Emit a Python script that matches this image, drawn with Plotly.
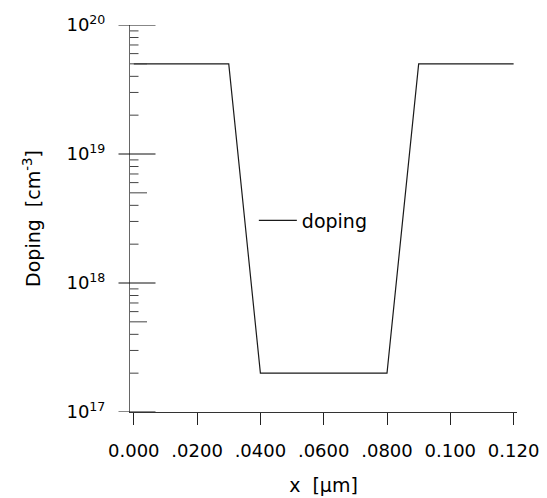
import plotly.graph_objects as go

# Doping profile along x (µm) — heavily doped contacts around a lightly doped channel
x_um = [0.0, 0.03, 0.04, 0.08, 0.09, 0.12]
doping = [5e19, 5e19, 2e17, 2e17, 5e19, 5e19]

x_tick_vals = [0.0, 0.02, 0.04, 0.06, 0.08, 0.10, 0.12]
x_tick_text = ["0.000", ".0200", ".0400", ".0600", ".0800", "0.100", "0.120"]

y_tick_vals = [1e17, 1e18, 1e19, 1e20]
y_tick_text = ["10<sup>17</sup>", "10<sup>18</sup>", "10<sup>19</sup>", "10<sup>20</sup>"]
minor_mult = [2, 3, 4, 5, 6, 7, 8, 9]

FONT = "DejaVu Sans"

fig = go.Figure()
fig.add_trace(go.Scatter(
    x=x_um, y=doping, mode="lines", name="doping",
    line=dict(color="#1a1a1a", width=1.2),
))

# y ticks: majors cross the axis, minors point inward (the 5x ones longer)
shapes = []
for v in y_tick_vals:
    shapes.append(dict(type="line", xref="paper", xsizemode="pixel", xanchor=0,
                       x0=-11.5, x1=25.5, yref="y", y0=v, y1=v,
                       line=dict(color="#111", width=1)))
for v in y_tick_vals[:-1]:
    for m in minor_mult:
        ln = 17 if m == 5 else 8.5
        shapes.append(dict(type="line", xref="paper", xsizemode="pixel", xanchor=0,
                           x0=0, x1=ln, yref="y", y0=v * m, y1=v * m,
                           line=dict(color="#444", width=1)))

fig.update_layout(
    width=547, height=498,
    margin=dict(l=130, r=30, t=25, b=86, autoexpand=False),
    paper_bgcolor="white", plot_bgcolor="white",
    font=dict(family=FONT, size=18, color="black"),
    shapes=shapes,
    showlegend=True,
    legend=dict(x=0.32, y=0.495, xanchor="left", yanchor="middle",
                bgcolor="rgba(0,0,0,0)", itemwidth=38,
                font=dict(family=FONT, size=19)),
    xaxis=dict(
        range=[-0.0012, 0.12107], tickvals=x_tick_vals, ticktext=x_tick_text,
        ticks="outside", ticklen=12, tickwidth=1, tickcolor="#222",
        showline=True, linecolor="#333", linewidth=1, automargin=False,
        showgrid=False, zeroline=False, ticklabelstandoff=10,
        title=dict(text="x  [μm]", font=dict(size=19), standoff=19),
    ),
    yaxis=dict(
        type="log", range=[17, 20], tickvals=y_tick_vals, ticktext=y_tick_text,
        ticks="", showline=True, linecolor="#666", linewidth=1, automargin=False,
        showgrid=False, zeroline=False, ticklabelstandoff=20,
        title=dict(text="Doping  [cm<sup>-3</sup>]", font=dict(size=19), standoff=20),
    ),
)

fig.write_html("out.html")
